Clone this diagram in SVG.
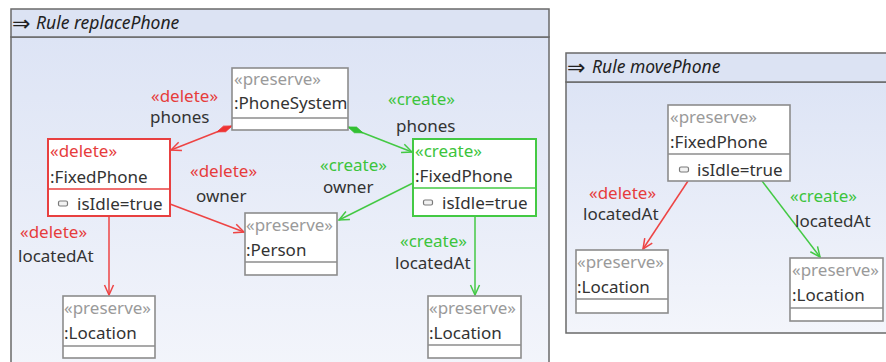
<svg xmlns="http://www.w3.org/2000/svg" width="886" height="362" viewBox="0 0 886 362">
  <style>
    text { font-family: "Noto Sans", "Open Sans", sans-serif; font-size: 17px; fill: #333; }
    .title { font-style: italic; font-size: 17.5px; fill: #222; }
    .icon { font-family: "DejaVu Sans", sans-serif; font-size: 22px; fill: #222; }
    .st-pre { fill: #9a9a9a; }
    .st-del { fill: #e63c3c; }
    .st-cre { fill: #3cc43c; }
    .frame { stroke: #6a6a6a; stroke-width: 1.5; }
    .hdr { fill: #dce3f3; }
    .box { fill: #fff; stroke-width: 1.6; }
    .pre { stroke: #8c8c8c; }
    .del { stroke: #e84040; stroke-width: 2; }
    .cre { stroke: #44c944; stroke-width: 2; }
    .sep-pre { stroke: #8c8c8c; stroke-width: 1.4; }
    .sep-del { stroke: #e84040; stroke-width: 1.6; }
    .sep-cre { stroke: #44c944; stroke-width: 1.6; }
    .attr-ic { fill: #f2f2f2; stroke: #7a7a7a; stroke-width: 1.2; }
    .edge { fill: none; stroke-width: 1.5; }
    .e-del { stroke: #ee4444; }
    .e-cre { stroke: #44c944; }
  </style>
  <defs>
    <linearGradient id="body" x1="0" y1="0" x2="0" y2="1">
      <stop offset="0" stop-color="#dde4f5"/>
      <stop offset="1" stop-color="#f3f5fb"/>
    </linearGradient>
    <marker id="arr-red" viewBox="-12 -6 14 12" refX="0" refY="0" markerWidth="14" markerHeight="12" markerUnits="userSpaceOnUse" orient="auto" overflow="visible">
      <path d="M-10,-4.5 L0,0 L-10,4.5" fill="none" stroke="#ee4444" stroke-width="1.5"/>
    </marker>
    <marker id="arr-green" viewBox="-12 -6 14 12" refX="0" refY="0" markerWidth="14" markerHeight="12" markerUnits="userSpaceOnUse" orient="auto" overflow="visible">
      <path d="M-10,-4.5 L0,0 L-10,4.5" fill="none" stroke="#44c944" stroke-width="1.5"/>
    </marker>
    <marker id="dia-red" viewBox="0 -4 17 8" refX="0" refY="0" markerWidth="17" markerHeight="8" markerUnits="userSpaceOnUse" orient="auto" overflow="visible">
      <path d="M0,0 L8,-3 L16,0 L8,3 Z" fill="#ee3333" stroke="#ee3333" stroke-width="0.8"/>
    </marker>
    <marker id="dia-green" viewBox="0 -4 17 8" refX="0" refY="0" markerWidth="17" markerHeight="8" markerUnits="userSpaceOnUse" orient="auto" overflow="visible">
      <path d="M0,0 L8,-3 L16,0 L8,3 Z" fill="#33c033" stroke="#33c033" stroke-width="0.8"/>
    </marker>
  </defs>

  <rect width="886" height="362" fill="#fff"/>

  <!-- Rule replacePhone frame -->
  <g id="rule-replacePhone">
    <rect x="11" y="37" width="538" height="335" fill="url(#body)" class="frame"/>
    <rect x="11" y="9" width="538" height="28" class="hdr frame"/>
    <text x="12" y="31" class="icon">⇒</text>
    <text x="36" y="29" class="title">Rule replacePhone</text>
  </g>

  <!-- Rule movePhone frame -->
  <g id="rule-movePhone">
    <rect x="566" y="82" width="330" height="251" fill="url(#body)" class="frame"/>
    <rect x="566" y="53" width="330" height="29" class="hdr frame"/>
    <text x="567" y="75" class="icon">⇒</text>
    <text x="592" y="73" class="title">Rule movePhone</text>
  </g>

  <!-- connectors -->
  <g id="connectors">
    <path class="edge e-del" d="M232,126 L171,150" marker-start="url(#dia-red)" marker-end="url(#arr-red)"/>
    <path class="edge e-cre" d="M348,127 L412,152" marker-start="url(#dia-green)" marker-end="url(#arr-green)"/>
    <path class="edge e-del" d="M170,204 L244,232" marker-end="url(#arr-red)"/>
    <path class="edge e-cre" d="M413,183 L339,220" marker-end="url(#arr-green)"/>
    <path class="edge e-del" d="M109,216 L109,295" marker-end="url(#arr-red)"/>
    <path class="edge e-cre" d="M475,216 L475,295" marker-end="url(#arr-green)"/>
    <path class="edge e-del" d="M688,181 L643,249" marker-end="url(#arr-red)"/>
    <path class="edge e-cre" d="M762,181 L820,257" marker-end="url(#arr-green)"/>

    <text x="151" y="102" class="st-del">«delete»</text>
    <text x="150" y="123">phones</text>
    <text x="388" y="105" class="st-cre">«create»</text>
    <text x="396" y="132">phones</text>
    <text x="190" y="177" class="st-del">«delete»</text>
    <text x="196" y="202">owner</text>
    <text x="320" y="171" class="st-cre">«create»</text>
    <text x="323" y="193">owner</text>
    <text x="20" y="238" class="st-del">«delete»</text>
    <text x="18" y="262">locatedAt</text>
    <text x="400" y="247" class="st-cre">«create»</text>
    <text x="395" y="269">locatedAt</text>
    <text x="589" y="199" class="st-del">«delete»</text>
    <text x="583" y="220">locatedAt</text>
    <text x="790" y="202" class="st-cre">«create»</text>
    <text x="795" y="227">locatedAt</text>
  </g>

  <g id="phoneSystem">
    <rect x="232" y="68" width="116" height="62" class="box pre"/>
    <line x1="232" y1="118" x2="348" y2="118" class="sep-pre"/>
    <text x="234" y="85" class="st-pre">«preserve»</text>
    <text x="234" y="109">:PhoneSystem</text>
  </g>

  <g id="fixedPhone-delete">
    <rect x="48" y="139" width="122" height="77" class="box del"/>
    <line x1="48" y1="189" x2="170" y2="189" class="sep-del"/>
    <text x="50" y="157" class="st-del">«delete»</text>
    <text x="50" y="183">:FixedPhone</text>
    <rect x="58.5" y="201" width="9" height="5" rx="1.5" class="attr-ic"/>
    <text x="77" y="210">isIdle=true</text>
  </g>

  <g id="fixedPhone-create">
    <rect x="413" y="139" width="123" height="77" class="box cre"/>
    <line x1="413" y1="188" x2="536" y2="188" class="sep-cre"/>
    <text x="415" y="157" class="st-cre">«create»</text>
    <text x="415" y="182">:FixedPhone</text>
    <rect x="423.5" y="200" width="9" height="5" rx="1.5" class="attr-ic"/>
    <text x="442" y="209">isIdle=true</text>
  </g>

  <g id="person">
    <rect x="245" y="213" width="92" height="62" class="box pre"/>
    <line x1="245" y1="262" x2="337" y2="262" class="sep-pre"/>
    <text x="246" y="231" class="st-pre">«preserve»</text>
    <text x="246" y="256">:Person</text>
  </g>

  <g id="location-left">
    <rect x="63" y="296" width="92" height="62" class="box pre"/>
    <line x1="63" y1="346" x2="155" y2="346" class="sep-pre"/>
    <text x="64" y="314" class="st-pre">«preserve»</text>
    <text x="64" y="339">:Location</text>
  </g>

  <g id="location-right">
    <rect x="428" y="296" width="93" height="62" class="box pre"/>
    <line x1="428" y1="345" x2="521" y2="345" class="sep-pre"/>
    <text x="429" y="314" class="st-pre">«preserve»</text>
    <text x="429" y="339">:Location</text>
  </g>

  <g id="fixedPhone-move">
    <rect x="668" y="105" width="122" height="76" class="box pre"/>
    <line x1="668" y1="154" x2="790" y2="154" class="sep-pre"/>
    <text x="670" y="123" class="st-pre">«preserve»</text>
    <text x="670" y="148">:FixedPhone</text>
    <rect x="679.5" y="167" width="9" height="5" rx="1.5" class="attr-ic"/>
    <text x="697" y="176">isIdle=true</text>
  </g>

  <g id="location-old">
    <rect x="576" y="250" width="92" height="63" class="box pre"/>
    <line x1="576" y1="299" x2="668" y2="299" class="sep-pre"/>
    <text x="577" y="268" class="st-pre">«preserve»</text>
    <text x="577" y="293">:Location</text>
  </g>

  <g id="location-new">
    <rect x="790" y="258" width="93" height="63" class="box pre"/>
    <line x1="790" y1="308" x2="883" y2="308" class="sep-pre"/>
    <text x="792" y="276" class="st-pre">«preserve»</text>
    <text x="792" y="301">:Location</text>
  </g>
</svg>
